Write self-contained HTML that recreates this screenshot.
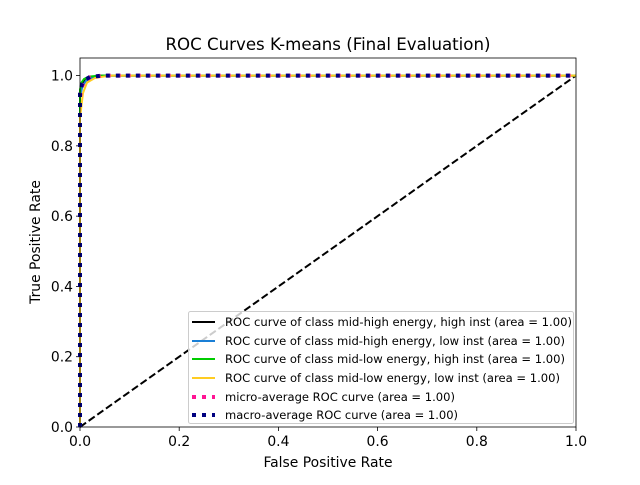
<!DOCTYPE html>
<html><head><meta charset="utf-8"><style>
body{margin:0;background:#fff}
svg text{font-family:"DejaVu Sans","Liberation Sans",sans-serif;fill:#000}
</style></head><body>
<svg id="c" width="640" height="480" xmlns="http://www.w3.org/2000/svg"></svg>
<script>
const xTicks=[0,0.2,0.4,0.6,0.8,1.0];
const yTicks=[0,0.2,0.4,0.6,0.8,1.0];
const tickLabels=["0.0","0.2","0.4","0.6","0.8","1.0"];
const seriesNames=["ROC curve of class mid-high energy, high inst (area = 1.00)","ROC curve of class mid-high energy, low inst (area = 1.00)","ROC curve of class mid-low energy, high inst (area = 1.00)","ROC curve of class mid-low energy, low inst (area = 1.00)","micro-average ROC curve (area = 1.00)","macro-average ROC curve (area = 1.00)"];
const fpr0=[0,0,0.004,0.01,0.02,0.04,1];
const tpr0=[0,0.95,0.975,0.99,0.996,1,1];
const fpr1=[0,0,0.005,0.012,0.025,0.05,1];
const tpr1=[0,0.94,0.97,0.985,0.995,1,1];
const fpr2=[0,0,0.003,0.008,0.018,0.04,1];
const tpr2=[0,0.96,0.98,0.99,0.997,1,1];
const fpr3=[0,0,0.006,0.014,0.03,0.06,1];
const tpr3=[0,0.88,0.95,0.98,0.993,1,1];
const fprMicro=[0,0,0.004,0.01,0.02,0.045,1];
const tprMicro=[0,0.94,0.97,0.985,0.995,1,1];
const fprMacro=[0,0,0.004,0.01,0.02,0.045,1];
const tprMacro=[0,0.95,0.975,0.988,0.996,1,1];
const x0=80,x1=576,yTop=58,yBot=427;
const sx=v=>x0+v*(x1-x0);
const sy=v=>yBot-v*(yBot-yTop)/1.05;
const svg=document.getElementById('c');
const NS='http://www.w3.org/2000/svg';
function mk(tag,at,txt){const e=document.createElementNS(NS,tag);for(const k in at)e.setAttribute(k,at[k]);if(txt!==undefined)e.textContent=txt;svg.appendChild(e);return e;}
function pts(xs,ys){return xs.map((v,i)=>sx(v).toFixed(2)+','+sy(ys[i]).toFixed(2)).join(' ');}
let t=mk('text',{x:328,y:50,'text-anchor':'middle','font-size':16.7,textLength:325,lengthAdjust:'spacingAndGlyphs'},'ROC Curves K-means (Final Evaluation)');


xTicks.forEach((v,i)=>{
 let l=mk('line',{x1:sx(v),x2:sx(v),y1:yBot,y2:yBot+4,stroke:'#000','stroke-width':0.8});
 
 
 let tx=mk('text',{x:sx(v),y:yBot+19,'text-anchor':'middle','font-size':13.9},tickLabels[i]);
 
 
});
yTicks.forEach((v,i)=>{
 let l=mk('line',{x1:x0-4,x2:x0,y1:sy(v),y2:sy(v),stroke:'#000','stroke-width':0.8});
 
 
 let tx=mk('text',{x:x0-7,y:sy(v)+5,'text-anchor':'end','font-size':13.9},tickLabels[i]);
 
 
});
let xl=mk('text',{x:328,y:467,'text-anchor':'middle','font-size':13.9},'False Positive Rate');


let yl=mk('text',{x:0,y:0,'text-anchor':'middle','font-size':13.9,transform:'translate(40,242) rotate(-90)'},'True Positive Rate');


let diag=mk('line',{x1:sx(0),y1:sy(0),x2:sx(1),y2:sy(1),stroke:'#000','stroke-width':2,'stroke-dasharray':'7.4,3.2'});


const series=[[fpr0,tpr0,'#000000',''],[fpr1,tpr1,'#1a7fd6',''],[fpr2,tpr2,'#00cc00',''],[fpr3,tpr3,'#ffcc22',''],[fprMicro,tprMicro,'#ff1493','4,6'],[fprMacro,tprMacro,'#000080','4,6']];
const names=['curve-mid-high-high','curve-mid-high-low','curve-mid-low-high','curve-mid-low-low','curve-micro-average','curve-macro-average'];
series.forEach((s,i)=>{
 let p=mk('polyline',{points:pts(s[0],s[1]),fill:'none',stroke:s[2],'stroke-width':i>=4?4:2,'stroke-dasharray':s[3]||'none'});
 
 
});
let fr=mk('rect',{x:x0,y:yTop,width:x1-x0,height:yBot-yTop,fill:'none',stroke:'#000','stroke-width':0.8});


let lg=mk('rect',{x:188.5,y:311.5,width:385,height:112,fill:'#fff','fill-opacity':0.8,stroke:'#ccc','stroke-width':1,rx:2});


const rowY=[322,341,359,378,397,415];
const lens=[347,340,340,335,230,233];
series.forEach((s,i)=>{
 let l=mk('line',{x1:192,x2:215,y1:rowY[i],y2:rowY[i],stroke:s[2],'stroke-width':i>=4?4:2,'stroke-dasharray':s[3]||'none'});
 
 
 let tx=mk('text',{x:225,y:rowY[i]+4,'font-size':11.6,textLength:lens[i],lengthAdjust:'spacingAndGlyphs'},seriesNames[i]);
 
 
});
</script>
</body></html>
